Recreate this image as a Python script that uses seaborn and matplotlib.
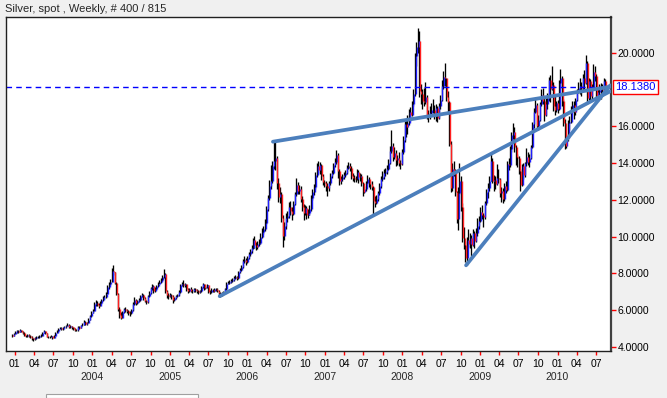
import numpy as np
import pandas as pd
import matplotlib
matplotlib.use("Agg")
import matplotlib.pyplot as plt
import matplotlib.transforms as mtransforms
from matplotlib.patches import Rectangle
import seaborn as sns

sns.set_style("white")
plt.rcParams["font.family"] = ["Liberation Sans", "DejaVu Sans"]

# ---------------- data ----------------
title_text = "Silver, spot , Weekly, # 400 / 815"
first_week = "2002-12-20"
first_open = 4.66
last_price = 18.138

week_close = [
    4.62, 4.72,
    # 2003
    4.80, 4.86, 4.82, 4.90, 4.84,
    4.76, 4.62, 4.58, 4.64,
    4.60, 4.55, 4.46, 4.42,
    4.48, 4.56, 4.52, 4.58,
    4.62, 4.78, 4.85, 4.74, 4.56,
    4.52, 4.56, 4.58, 4.50,
    4.62, 4.78, 4.86, 5.00,
    5.04, 4.98, 5.06, 5.08, 5.16,
    5.22, 5.08, 5.12, 5.06,
    4.98, 4.94, 4.90, 5.08, 5.04,
    5.18, 5.22, 5.38, 5.24,
    5.32, 5.48, 5.66, 5.86,
    # 2004
    5.98, 6.35, 6.40, 6.30, 6.25,
    6.40, 6.55, 6.70, 6.73,
    6.90, 7.25, 7.40, 7.55,
    8.15, 8.05, 7.50, 6.90, 6.05,
    5.75, 5.60, 5.90, 6.05,
    6.00, 5.95, 5.85, 5.82,
    6.00, 6.35, 6.55, 6.40, 6.50,
    6.55, 6.75, 6.85, 6.65,
    6.50, 6.45, 6.75, 6.95,
    7.20, 7.30, 7.05, 7.15, 7.30,
    7.45, 7.55, 7.65, 7.80,
    7.95, 7.05, 6.85, 6.75, 6.85,
    # 2005
    6.75, 6.55, 6.65, 6.75,
    6.80, 7.00, 7.35, 7.45,
    7.35, 7.40, 7.15, 7.05,
    7.15, 7.05, 7.05, 7.15, 7.10,
    7.05, 7.00, 7.05, 7.25,
    7.40, 7.20, 7.25, 7.35,
    7.00, 7.00, 7.10, 7.05, 7.15,
    7.10, 7.05, 6.95, 6.80,
    6.90, 6.95, 7.15, 7.45, 7.50,
    7.55, 7.60, 7.65, 7.75,
    7.80, 7.75, 8.05, 8.20,
    8.35, 8.65, 8.75, 8.60, 8.85,
    # 2006
    9.05, 9.20, 9.40, 9.80,
    9.55, 9.45, 9.60, 9.65,
    10.00, 10.25, 10.40, 10.75, 11.50,
    12.10, 12.75, 13.05, 13.85,
    14.10, 14.30, 12.90, 12.15,
    12.30, 11.00, 10.05, 10.60, 11.00,
    11.10, 11.60, 11.40, 11.25,
    11.75, 12.30, 12.80, 12.50,
    12.60, 12.05, 11.60, 11.30, 11.55,
    11.20, 11.30, 11.50, 12.10,
    12.40, 12.70, 13.35, 13.85,
    13.60, 13.90, 13.30, 12.95, 12.90,
    # 2007
    12.75, 12.65, 12.90, 13.30,
    13.45, 13.90, 14.05, 14.45,
    13.55, 13.00, 13.15, 13.25, 13.35,
    13.45, 13.75, 13.85, 13.75,
    13.30, 13.20, 13.15, 13.15,
    13.50, 13.25, 13.30, 12.90, 12.45,
    12.60, 12.90, 13.15, 12.85,
    12.85, 12.70, 11.95, 11.80, 12.05,
    12.35, 12.75, 13.15, 13.25,
    13.45, 13.50, 13.70, 14.00,
    14.65, 14.90, 14.35, 14.55, 14.15,
    14.25, 14.00, 13.95, 14.60,
    # 2008
    15.25, 16.10, 15.95, 16.20,
    16.80, 16.60, 17.20, 17.75, 19.80,
    20.30, 20.65, 17.90, 17.75,
    17.40, 17.30, 17.60, 16.50,
    16.55, 16.70, 16.90, 16.90, 16.60,
    17.00, 16.45, 17.10, 17.45,
    18.20, 18.70, 18.60, 17.60,
    17.30, 15.05, 12.65, 13.70, 13.50,
    12.40, 10.95, 12.35, 13.05,
    11.60, 9.90, 9.55, 8.85, 9.80,
    9.60, 9.95, 9.55, 10.20,
    9.75, 10.20, 10.55, 10.85,
    # 2009
    11.35, 11.15, 11.05, 11.80, 12.45,
    12.65, 13.05, 14.10, 13.00,
    13.10, 12.85, 13.20, 13.15,
    12.35, 12.50, 12.05, 12.75,
    12.55, 13.95, 13.90, 14.75, 15.55,
    15.70, 14.85, 14.35, 14.30,
    13.55, 12.80, 13.85, 13.35, 14.00,
    14.35, 14.05, 14.25, 14.85,
    16.10, 16.75, 17.15, 16.00,
    16.35, 17.20, 17.70, 17.40, 16.60,
    17.20, 17.55, 18.50, 18.05,
    18.25, 17.10, 16.90, 17.25,
    # 2010
    16.95, 18.35, 18.65, 17.35, 16.20,
    14.95, 15.35, 16.20, 16.25,
    16.95, 17.15, 16.75, 17.45,
    17.90, 18.10, 18.20, 18.10, 18.65,
    18.35, 19.45, 17.55, 18.45,
    17.65, 18.10, 18.95, 18.75,
    17.60, 17.85, 17.95, 18.05, 17.95,
    18.45, 18.138,
]

week_high = [
    4.70, 4.76,
    # 2003
    4.86, 4.92, 4.90, 4.95, 4.93,
    4.88, 4.80, 4.66, 4.68,
    4.70, 4.64, 4.58, 4.50,
    4.53, 4.60, 4.60, 4.63,
    4.68, 4.84, 4.92, 4.88, 4.78,
    4.60, 4.60, 4.63, 4.62,
    4.66, 4.82, 4.92, 5.05,
    5.10, 5.08, 5.10, 5.14, 5.22,
    5.30, 5.26, 5.18, 5.16,
    5.10, 5.03, 4.98, 5.12, 5.14,
    5.22, 5.28, 5.45, 5.42,
    5.38, 5.55, 5.72, 5.94,
    # 2004
    6.05, 6.42, 6.55, 6.48, 6.38,
    6.48, 6.62, 6.78, 6.85,
    7.00, 7.35, 7.55, 7.72,
    8.30, 8.45, 8.10, 7.55, 6.95,
    6.15, 5.90, 5.98, 6.12,
    6.15, 6.08, 6.00, 5.95,
    6.08, 6.42, 6.70, 6.62, 6.58,
    6.65, 6.82, 6.95, 6.90,
    6.72, 6.58, 6.82, 7.02,
    7.28, 7.40, 7.35, 7.25, 7.38,
    7.52, 7.65, 7.75, 7.90,
    8.25, 8.00, 7.10, 6.92, 6.92,
    # 2005
    6.90, 6.80, 6.72, 6.82,
    6.90, 7.08, 7.42, 7.55,
    7.62, 7.50, 7.45, 7.20,
    7.22, 7.25, 7.15, 7.22, 7.20,
    7.15, 7.12, 7.12, 7.30,
    7.48, 7.45, 7.35, 7.40,
    7.38, 7.10, 7.18, 7.15, 7.22,
    7.22, 7.18, 7.10, 7.00,
    6.98, 7.05, 7.22, 7.52, 7.58,
    7.65, 7.70, 7.75, 7.85,
    7.90, 7.88, 8.12, 8.30,
    8.45, 8.80, 8.95, 8.85, 8.92,
    # 2006
    9.15, 9.35, 9.55, 9.95,
    10.05, 9.70, 9.75, 9.85,
    10.20, 10.45, 10.60, 10.95, 11.65,
    12.25, 13.10, 13.90, 14.10,
    15.20, 15.15, 14.40, 13.20,
    12.70, 12.45, 11.20, 10.80, 11.30,
    11.40, 11.90, 11.95, 11.60,
    11.95, 12.45, 13.20, 12.95,
    12.80, 12.75, 12.20, 11.75, 11.70,
    11.65, 11.50, 11.70, 12.25,
    12.60, 12.85, 13.50, 14.00,
    14.10, 14.05, 13.95, 13.40, 13.10,
    # 2007
    13.05, 12.90, 13.00, 13.45,
    13.60, 14.00, 14.25, 14.70,
    14.55, 13.65, 13.30, 13.40, 13.50,
    13.60, 13.90, 14.05, 14.00,
    13.85, 13.45, 13.35, 13.30,
    13.65, 13.60, 13.45, 13.40, 12.95,
    12.75, 13.05, 13.35, 13.25,
    13.00, 13.05, 12.75, 12.20, 12.25,
    12.50, 12.90, 13.30, 13.55,
    13.70, 13.75, 13.90, 14.20,
    14.90, 15.80, 15.10, 14.85, 14.70,
    14.45, 14.60, 14.15, 14.75,
    # 2008
    15.45, 16.30, 16.35, 16.60,
    16.95, 17.05, 17.35, 18.00, 20.00,
    20.60, 21.35, 21.20, 18.30,
    18.05, 18.10, 18.40, 17.70,
    16.90, 17.10, 17.25, 17.50, 17.15,
    17.20, 17.10, 17.25, 17.70,
    18.50, 19.00, 19.45, 18.65,
    17.90, 17.35, 15.20, 14.00, 14.10,
    13.70, 12.50, 12.70, 14.00,
    13.30, 11.80, 10.50, 9.75, 10.00,
    10.40, 10.20, 10.10, 10.40,
    10.30, 10.45, 11.00, 11.10,
    # 2009
    11.60, 11.70, 11.30, 11.95, 12.60,
    12.90, 13.30, 14.50, 14.30,
    13.35, 13.30, 13.95, 13.65,
    13.20, 12.70, 12.65, 12.90,
    13.00, 14.10, 14.30, 14.90, 15.70,
    16.20, 15.95, 15.00, 14.50,
    14.40, 13.70, 13.95, 14.00, 14.05,
    14.80, 14.60, 14.50, 15.00,
    16.25, 17.00, 17.50, 17.25,
    16.60, 17.30, 18.00, 18.10, 17.60,
    17.55, 17.80, 18.70, 18.80,
    19.30, 18.40, 17.75, 17.35,
    # 2010
    17.45, 18.50, 19.10, 18.75, 17.50,
    16.40, 15.60, 16.35, 16.55,
    17.10, 17.40, 17.35, 17.55,
    18.05, 18.40, 18.60, 18.40, 18.85,
    19.05, 19.90, 19.55, 18.60,
    18.55, 18.30, 19.40, 19.25,
    18.85, 18.10, 18.30, 18.35, 18.30,
    18.60, 18.55,
]

week_low = [
    4.56, 4.60,
    # 2003
    4.70, 4.76, 4.78, 4.80, 4.80,
    4.72, 4.58, 4.52, 4.55,
    4.56, 4.50, 4.40, 4.35,
    4.37, 4.45, 4.48, 4.49,
    4.55, 4.60, 4.74, 4.70, 4.52,
    4.47, 4.48, 4.52, 4.45,
    4.48, 4.60, 4.75, 4.84,
    4.96, 4.92, 4.94, 5.02, 5.05,
    5.12, 5.02, 5.04, 5.00,
    4.92, 4.88, 4.85, 4.88, 5.00,
    5.02, 5.12, 5.20, 5.18,
    5.20, 5.30, 5.45, 5.62,
    # 2004
    5.82, 5.95, 6.25, 6.20, 6.12,
    6.20, 6.35, 6.50, 6.60,
    6.68, 6.88, 7.15, 7.35,
    7.52, 7.90, 7.40, 6.80, 5.95,
    5.60, 5.50, 5.55, 5.85,
    5.90, 5.82, 5.75, 5.70,
    5.78, 5.95, 6.30, 6.30, 6.35,
    6.42, 6.50, 6.70, 6.55,
    6.42, 6.35, 6.40, 6.70,
    6.90, 7.12, 6.95, 7.00, 7.10,
    7.25, 7.40, 7.50, 7.60,
    7.75, 6.95, 6.65, 6.62, 6.70,
    # 2005
    6.62, 6.40, 6.48, 6.60,
    6.70, 6.75, 6.95, 7.30,
    7.28, 7.25, 7.05, 6.95,
    7.00, 6.98, 6.92, 7.00, 7.00,
    6.95, 6.90, 6.92, 7.00,
    7.20, 7.12, 7.15, 7.18,
    6.95, 6.90, 6.95, 6.98, 7.00,
    7.02, 6.98, 6.85, 6.72,
    6.75, 6.85, 6.90, 7.10, 7.40,
    7.45, 7.48, 7.55, 7.60,
    7.70, 7.65, 7.72, 8.00,
    8.15, 8.30, 8.55, 8.45, 8.55,
    # 2006
    8.80, 8.95, 9.10, 9.35,
    9.40, 9.25, 9.35, 9.50,
    9.60, 9.90, 10.15, 10.30, 10.70,
    11.40, 12.00, 12.60, 12.90,
    13.70, 13.60, 12.60, 11.90,
    11.80, 10.80, 9.45, 9.80, 10.40,
    10.80, 11.00, 11.20, 10.90,
    11.15, 11.70, 12.20, 12.30,
    12.30, 11.90, 11.40, 10.90, 11.15,
    10.95, 11.00, 11.20, 11.40,
    12.00, 12.25, 12.60, 13.25,
    13.45, 13.40, 13.10, 12.80, 12.70,
    # 2007
    12.50, 12.20, 12.50, 12.80,
    13.20, 13.40, 13.80, 13.95,
    13.20, 12.80, 12.85, 13.00, 13.15,
    13.25, 13.40, 13.65, 13.55,
    13.15, 13.05, 12.95, 12.95,
    13.10, 12.90, 13.05, 12.75, 12.20,
    12.35, 12.50, 12.85, 12.70,
    12.60, 12.55, 11.25, 11.60, 11.75,
    11.95, 12.25, 12.65, 13.05,
    13.15, 13.30, 13.40, 13.60,
    13.95, 14.55, 14.10, 14.20, 13.85,
    13.90, 13.85, 13.70, 13.90,
    # 2008
    14.50, 15.15, 15.40, 15.60,
    16.05, 16.30, 16.55, 17.10, 17.65,
    19.30, 20.00, 17.60, 17.20,
    16.95, 17.10, 17.20, 16.40,
    16.25, 16.40, 16.55, 16.70, 16.40,
    16.30, 16.25, 16.40, 16.95,
    17.40, 18.00, 18.20, 17.40,
    16.80, 14.90, 12.45, 12.50, 13.30,
    12.20, 10.75, 10.35, 12.30,
    11.40, 9.70, 9.30, 8.60, 8.45,
    9.45, 9.40, 8.95, 9.50,
    9.40, 9.70, 10.05, 10.40,
    # 2009
    10.80, 10.95, 10.50, 10.95, 11.70,
    12.10, 12.50, 13.00, 12.90,
    12.50, 12.60, 12.80, 12.90,
    12.15, 11.90, 11.85, 11.95,
    12.35, 12.50, 13.60, 13.80, 14.60,
    15.30, 14.60, 13.90, 13.80,
    13.40, 12.50, 12.75, 13.15, 13.25,
    13.85, 13.90, 13.80, 14.20,
    14.80, 15.90, 16.70, 15.85,
    15.80, 16.30, 17.10, 17.20, 16.30,
    16.55, 16.95, 17.40, 17.30,
    17.95, 16.85, 16.60, 16.80,
    # 2010
    16.70, 16.90, 18.10, 17.10, 16.00,
    14.75, 14.80, 15.20, 15.80,
    16.15, 16.80, 16.40, 16.60,
    17.35, 17.80, 17.75, 17.65, 17.95,
    17.90, 18.30, 17.20, 17.45,
    17.30, 17.50, 18.00, 18.45,
    17.40, 17.35, 17.60, 17.50, 17.75,
    17.85, 17.90,
]

price_ticks = [4, 6, 8, 10, 12, 14, 16, 20]
year_labels = ["2004", "2005", "2006", "2007", "2008", "2009", "2010"]

# trend lines drawn on the chart (start date, start value) -> (end date, end value)
trend_start_dates = ["2006-05-01", "2005-08-23", "2008-10-27"]
trend_start_vals = [15.16, 6.76, 8.44]
trend_end_date = "2010-09-06"
trend_end_vals = [18.15, 17.90, 18.22]

# ---------------- build ----------------
dates = pd.date_range(first_week, periods=len(week_close), freq="W-FRI")
close = np.array(week_close, dtype=float)
opens = np.concatenate([[first_open], close[:-1]])
high = np.maximum(np.array(week_high, dtype=float), np.maximum(opens, close))
low = np.minimum(np.array(week_low, dtype=float), np.minimum(opens, close))
up = close >= opens

BG = "#f0f0f0"
W, H = 667, 398
fig = plt.figure(figsize=(W / 100, H / 100), dpi=100, facecolor=BG)
ax = fig.add_axes([6 / W, 1 - 351 / H, 605 / W, (351 - 17) / H])
ax.set_facecolor("white")

ax.vlines(dates, low, high, color="black", lw=0.95)
shift = pd.Timedelta(days=3)
ax.vlines(dates[up] + shift, opens[up], close[up], color="#2020ff", lw=1.0)
ax.vlines(dates[~up] + shift, opens[~up], close[~up], color="#ff2020", lw=1.0)

ax.axhline(last_price, color="#0000ff", lw=1.0, ls=(0, (4, 3)))

trend_color = "#4c7fbc"
for d0, v0, v1 in zip(trend_start_dates, trend_start_vals, trend_end_vals):
    sns.lineplot(x=pd.to_datetime([d0, trend_end_date]), y=[v0, v1], ax=ax,
                 color=trend_color, lw=2.7, solid_capstyle="round",
                 legend=False, zorder=5)

ax.set_xlim(pd.Timestamp("2002-11-20"), pd.Timestamp("2010-09-10"))
ax.set_ylim(3.78, 21.94)

# x axis: quarters
qticks = pd.date_range("2003-01-01", "2010-07-01", freq="QS")
ax.set_xticks(qticks)
ax.set_xticklabels([d.strftime("%m") for d in qticks])
ax.tick_params(axis="x", bottom=True, direction="out", color="red", length=3,
               width=1, labelsize=7.5, pad=3, labelcolor="black")
ytrans = mtransforms.blended_transform_factory(ax.transData, ax.transAxes)
for lab in year_labels:
    ax.text(pd.Timestamp(lab + "-01-01"), -0.078, lab, transform=ytrans,
            ha="center", va="center", fontsize=7.5)

# y axis on the right
ax.yaxis.tick_right()
ax.set_yticks(price_ticks)
ax.set_yticklabels([f"{t:.4f}" for t in price_ticks])
ax.tick_params(axis="y", right=True, left=False, direction="out", color="red",
               length=3.5, width=1, labelsize=7.5, pad=1, labelcolor="black")
ax.set_xlabel("")
ax.set_ylabel("")

ytr = mtransforms.blended_transform_factory(ax.transAxes, ax.transData)
ax.text(1.007, last_price, f"{last_price:.4f}", transform=ytr, ha="left",
        va="center", color="#0000ff", fontsize=8, zorder=6,
        bbox=dict(boxstyle="square,pad=0.18", fc="white", ec="red", lw=1))

for s in ["left", "top", "bottom"]:
    ax.spines[s].set_color("#202020")
    ax.spines[s].set_linewidth(1.0)
ax.spines["right"].set_color("#404040")
ax.spines["right"].set_linewidth(1.6)

fig.text(5 / W, 1 - 8.5 / H, title_text, ha="left", va="center", fontsize=8)

fig.patches.append(Rectangle((46 / W, 0), 152 / W, 4.5 / H, transform=fig.transFigure,
                             fc="white", ec="#a0a0a0", lw=0.8))

fig.savefig("out.png", dpi=100, facecolor=BG)
